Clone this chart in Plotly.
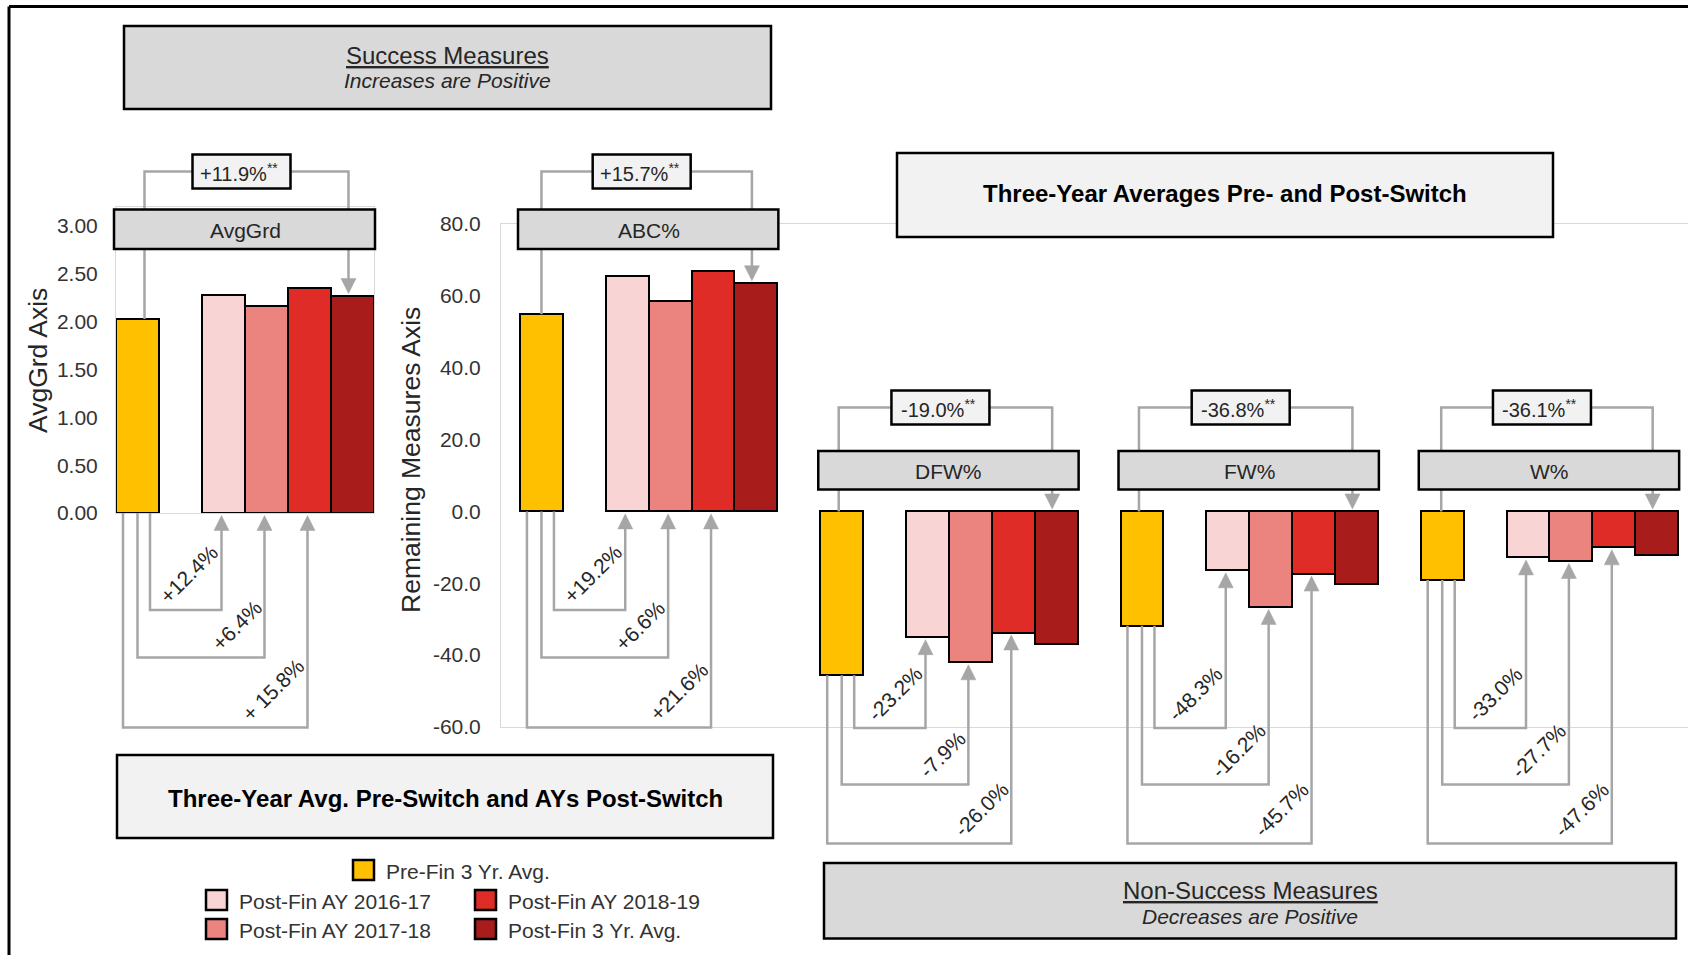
import plotly.graph_objects as go

W, H = 1688, 955
FONT = "Liberation Sans, Arial, sans-serif"
TXT = "#262626"
GREY = "#a6a6a6"

# ---- data -------------------------------------------------------------
metrics = ["AvgGrd", "ABC%", "DFW%", "FW%", "W%"]
series_names = ["Pre-Fin 3 Yr. Avg.", "Post-Fin AY 2016-17", "Post-Fin AY 2017-18",
                "Post-Fin AY 2018-19", "Post-Fin 3 Yr. Avg."]
series_colors = ["#FFC000", "#F8D5D4", "#EB837F", "#DF2C27", "#A81C1C"]

pre_avg = [2.03, 54.9, -45.6, -31.8, -19.1]
ay_1617 = [2.28, 65.4, -35.0, -16.4, -12.8]
ay_1718 = [2.16, 58.5, -42.0, -26.6, -13.8]
ay_1819 = [2.35, 66.8, -33.7, -17.3, -10.0]
post_avg = [2.27, 63.5, -36.9, -20.1, -12.2]

chg_1617 = ["+12.4%", "+19.2%", "-23.2%", "-48.3%", "-33.0%"]
chg_1718 = ["+6.4%", "+6.6%", "-7.9%", "-16.2%", "-27.7%"]
chg_1819 = ["+ 15.8%", "+21.6%", "-26.0%", "-45.7%", "-47.6%"]
chg_post = ["+11.9%", "+15.7%", "-19.0%", "-36.8%", "-36.1%"]

avg_ticks = [0.0, 0.5, 1.0, 1.5, 2.0, 2.5, 3.0]
rem_ticks = [-60, -40, -20, 0, 20, 40, 60, 80]

series_values = [pre_avg, ay_1617, ay_1718, ay_1819, post_avg]

# ---- axis geometry (pixels) ------------------------------------------
AX1 = dict(x0=116, x1=374, y0=207, y1=513, xr=(-0.5, 5.5), yr=(0, 3.2))
AX2 = dict(x0=501, x1=1688, y0=224, y1=727, xr=(-0.943, 26.73), yr=(-60, 80))
SLOT = [0, 2, 3, 4, 5]   # slot of each series inside a metric group
GROUP = 7                # slots per metric group in the second panel
BRACKET_LEFT_SHIFT = [7, 0, -3, -3, -1]   # px nudge of the upper bracket's left leg


def fx(p):
    return p / W


def fy(p):
    return 1 - p / H


def px_x(ax, v):
    a, b = ax["xr"]
    return ax["x0"] + (v - a) / (b - a) * (ax["x1"] - ax["x0"])


def px_y(ax, v):
    a, b = ax["yr"]
    return ax["y1"] - (v - a) / (b - a) * (ax["y1"] - ax["y0"])


def axis_of(m):
    return AX1 if m == 0 else AX2


def slot_pos(m, k):
    return SLOT[k] if m == 0 else GROUP * (m - 1) + SLOT[k]


fig = go.Figure()

# ---- bars -----------------------------------------------------------
for k, (name, color, vals) in enumerate(zip(series_names, series_colors, series_values)):
    fig.add_trace(go.Bar(
        x=[slot_pos(0, k)], y=[vals[0]], xaxis="x", yaxis="y",
        width=1, marker=dict(color=color, line=dict(color="black", width=2)),
        name=name, showlegend=False))
    fig.add_trace(go.Bar(
        x=[slot_pos(m, k) for m in range(1, 5)], y=vals[1:], xaxis="x2", yaxis="y2",
        width=1, marker=dict(color=color, line=dict(color="black", width=2)),
        name=name, showlegend=False))

shapes = []
annotations = []


def path(points, color=GREY, width=2.5, fill=None):
    d = "M " + " L ".join(f"{fx(x):.6f},{fy(y):.6f}" for x, y in points)
    if fill:
        d += " Z"
    shp = dict(type="path", xref="paper", yref="paper", path=d, layer="above",
               line=dict(color=color, width=width))
    if fill:
        shp["fillcolor"] = fill
        shp["line"] = dict(color=fill, width=0.5)
    shapes.append(shp)


def rect(x0, y0, x1, y1, fill, line="black", lw=2.5):
    shapes.append(dict(type="rect", xref="paper", yref="paper", layer="above",
                       x0=fx(x0), x1=fx(x1), y0=fy(y1), y1=fy(y0),
                       fillcolor=fill, line=dict(color=line, width=lw)))


def text(x, y, s, size=21, bold=False, italic=False, xanchor="center",
         yanchor="middle", angle=0, color=TXT):
    if bold:
        s = f"<b>{s}</b>"
    if italic:
        s = f"<i>{s}</i>"
    annotations.append(dict(x=fx(x), y=fy(y), xref="paper", yref="paper", text=s,
                            showarrow=False, xanchor=xanchor, yanchor=yanchor,
                            textangle=angle, borderpad=0,
                            font=dict(family=FONT, size=size, color=color)))


def arrow_head(x, tip, direction):
    # direction: +1 points down, -1 points up
    back = tip - 15 * direction
    path([(x - 7.5, back), (x + 7.5, back), (x, tip)], fill=GREY)


# ---- connectors and labels for every metric --------------------------
for m, name in enumerate(metrics):
    ax = axis_of(m)
    success = m < 2
    xc = [px_x(ax, slot_pos(m, k)) for k in range(5)]
    vals = [sv[m] for sv in series_values]
    top = [px_y(ax, max(v, 0)) for v in vals]
    bot = [px_y(ax, min(v, 0)) for v in vals]
    half = (px_x(ax, 1) - px_x(ax, 0)) / 2

    # upper bracket: pre-switch average -> post-switch average
    by = 171.5 if success else 407.5
    xl = xc[0] + BRACKET_LEFT_SHIFT[m]
    xr = xc[4] - 4
    tip = top[4] - 2.5
    path([(xl, top[0]), (xl, by), (xr, by), (xr, tip - 14)])
    arrow_head(xr, tip, +1)
    bx = (xl + xr) / 2 - 5
    rect(bx - 49, by - 17, bx + 49, by + 17, "#f2f2f2")
    text(bx - 2, by + 1, f"{chg_post[m]}<sup>**</sup>", size=20)

    # metric name box
    cy0, cy1 = (209.5, 249) if success else (451, 489.5)
    rect(xc[0] - half - 2, cy0, xc[4] + half + 1, cy1, "#d9d9d9")
    text((xc[0] + xc[4]) / 2, (cy0 + cy1) / 2 + 1, name, size=21)

    # lower connectors: pre-switch average -> each academic year
    levels = [610, 657.5, 727.5] if success else [728, 784.5, 843.5]
    starts = [xc[0] + 12.5, xc[0], xc[0] - 14.5]
    labels = [chg_1617[m], chg_1718[m], chg_1819[m]]
    for j in range(3):
        k = j + 1
        xa = xc[k] - 2
        tip = bot[k] + 2.5
        path([(starts[j], bot[0]), (starts[j], levels[j]), (xa, levels[j]), (xa, tip + 14)])
        arrow_head(xa, tip, -1)
        text(xa + 3, levels[j] - 1, labels[j], size=21, angle=-45,
             xanchor="right", yanchor="bottom")

# ---- section boxes ---------------------------------------------------
rect(124, 26, 771, 109, "#d9d9d9")
text(447, 55, "<u>Success Measures</u>", size=24)
text(447, 81, "Increases are Positive", size=21, italic=True)

rect(897, 153, 1553, 237, "#f2f2f2")
text(1225, 194, "Three-Year Averages Pre- and Post-Switch", size=24, bold=True, color="black")

rect(117, 755, 773, 838, "#f2f2f2")
text(445, 798, "Three-Year Avg. Pre-Switch and AYs Post-Switch", size=24, bold=True, color="black")

rect(824, 863, 1676, 938.5, "#d9d9d9")
text(1250, 890, "<u>Non-Success Measures</u>", size=24)
text(1250, 916, "Decreases are Positive", size=21, italic=True)

# ---- axis titles -----------------------------------------------------
text(38, 361, "AvgGrd Axis", size=26.5, angle=-90)
text(411, 460, "Remaining Measures Axis", size=26.5, angle=-90)

# ---- legend ----------------------------------------------------------
legend_slots = [(353, 870), (206, 900), (206, 929), (475, 900), (475, 929)]
for (lx, ly), name, color in zip(legend_slots, series_names, series_colors):
    rect(lx, ly - 10, lx + 21, ly + 10, color, lw=2.5)
    text(lx + 32, ly + 1, name, size=21, xanchor="left", color="#333333")

# ---- outer frame (top and left edges) --------------------------------
shapes.append(dict(type="line", xref="paper", yref="paper", layer="above",
                   x0=fx(9), x1=1.0, y0=fy(6.5), y1=fy(6.5),
                   line=dict(color="black", width=3)))
shapes.append(dict(type="line", xref="paper", yref="paper", layer="above",
                   x0=fx(9), x1=fx(9), y0=0.0, y1=fy(6.5),
                   line=dict(color="black", width=3)))

axis_common = dict(showgrid=False, zeroline=False, showline=True, mirror=True,
                   linecolor="#d9d9d9", linewidth=1, fixedrange=True,
                   automargin=False)
tickfont = dict(family=FONT, size=21, color="#333333")

fig.update_layout(
    template="none",
    width=W, height=H, margin=dict(l=0, r=0, t=0, b=0, pad=0, autoexpand=False),
    paper_bgcolor="white", plot_bgcolor="rgba(0,0,0,0)",
    barmode="overlay", bargap=0, showlegend=False,
    xaxis=dict(domain=[fx(AX1["x0"]), fx(AX1["x1"])], range=list(AX1["xr"]),
               showticklabels=False, ticks="", anchor="y", **axis_common),
    yaxis=dict(domain=[fy(AX1["y1"]), fy(AX1["y0"])], range=list(AX1["yr"]),
               tickvals=avg_ticks, ticktext=[f"{v:.2f}" for v in avg_ticks],
               ticks="", ticklabelstandoff=13, tickfont=tickfont, anchor="x",
               **axis_common),
    xaxis2=dict(domain=[fx(AX2["x0"]), 1.0], range=list(AX2["xr"]),
                showticklabels=False, ticks="", anchor="y2", **axis_common),
    yaxis2=dict(domain=[fy(AX2["y1"]), fy(AX2["y0"])], range=list(AX2["yr"]),
                tickvals=rem_ticks, ticktext=[f"{v:.1f}" for v in rem_ticks],
                ticks="", ticklabelstandoff=15, tickfont=tickfont, anchor="x2",
                **axis_common),
    shapes=shapes,
    annotations=annotations,
)

fig.write_html("out.html")
